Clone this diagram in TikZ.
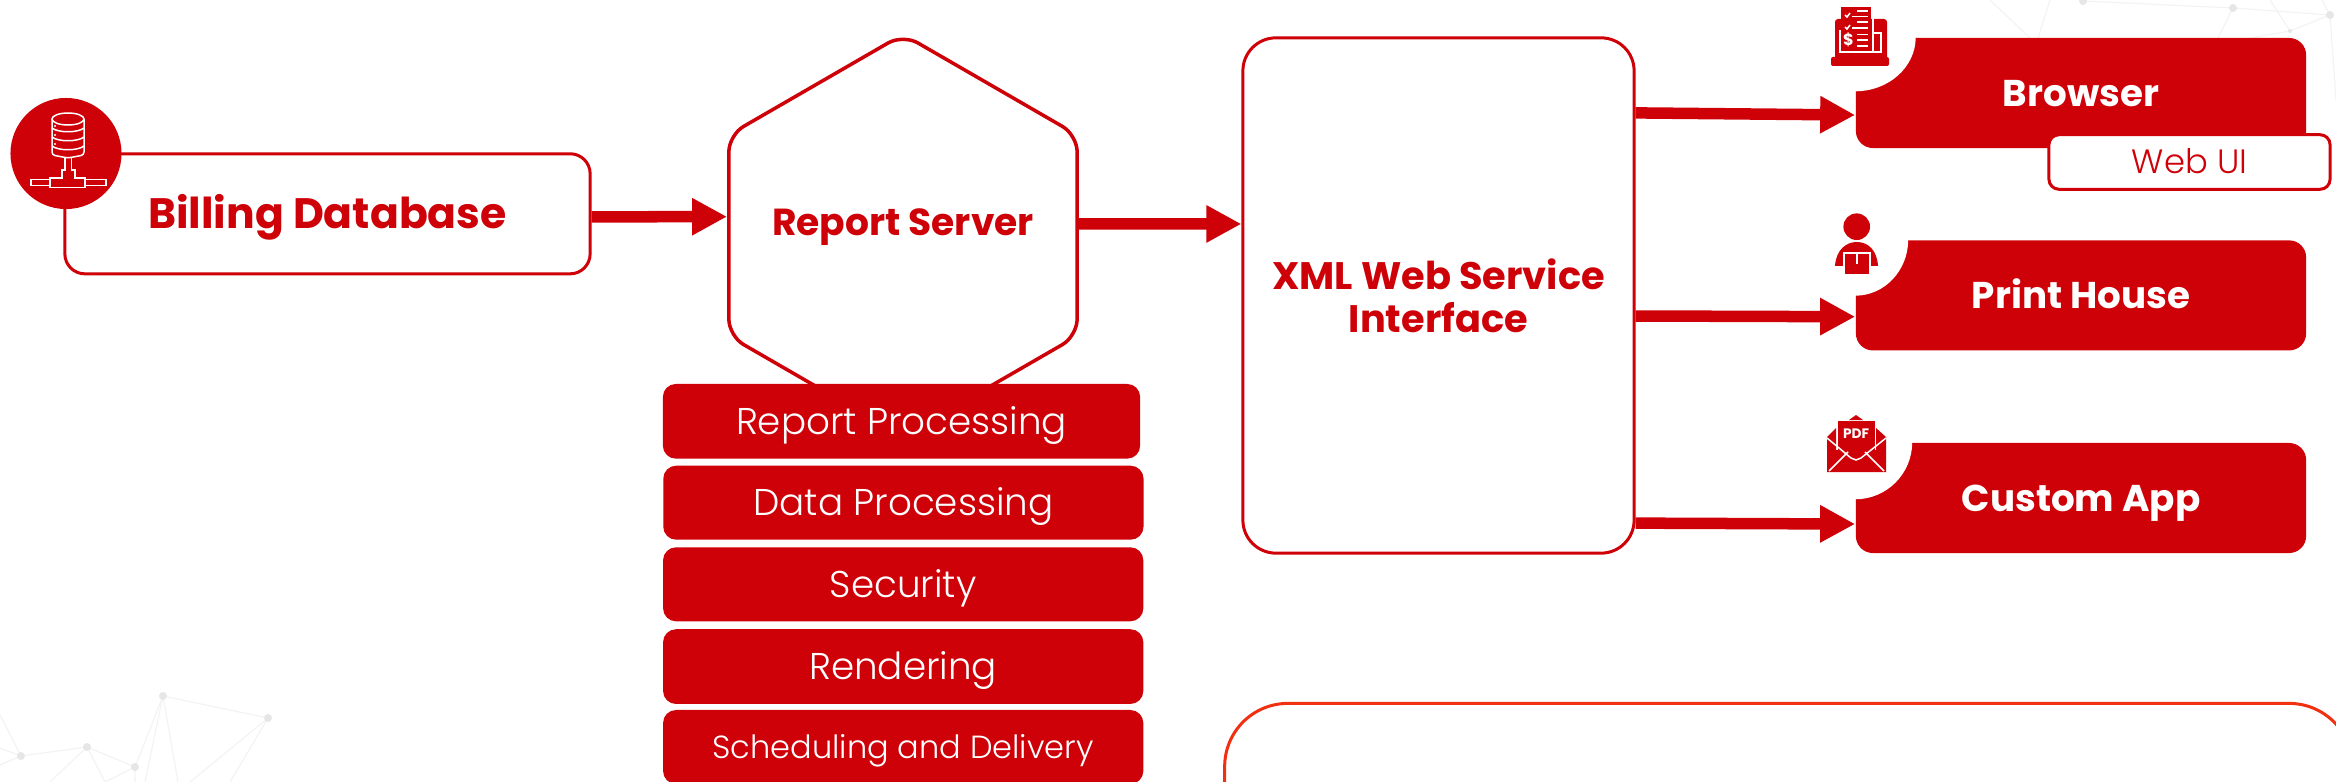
\documentclass[tikz,border=0pt]{standalone}
\usepackage{xcolor}
\usepackage{fontspec}
\setmainfont{Poppins}
\newfontfamily\lightfont{Poppins Light}
\usepackage{tikz}
\usetikzlibrary{shapes.geometric, arrows.meta, positioning}
\definecolor{billred}{RGB}{206, 0, 8}
\definecolor{noteorange}{RGB}{240, 48, 16}
\definecolor{netline}{RGB}{243, 243, 243}
\definecolor{netdot}{RGB}{230, 230, 230}

\begin{document}
\begin{tikzpicture}[
    x=0.01cm, y=-0.01cm,
    outline/.style={draw=billred, line width=0.03cm, fill=white, inner sep=0pt, text=billred, align=center},
    client/.style={fill=billred, rounded corners=0.17cm, minimum width=4.5cm, minimum height=1.1cm, inner sep=0pt, text=white, text height=1.04em, text depth=0.3em, font=\fontsize{10.6}{12}\bfseries\selectfont},
    module/.style={fill=billred, rounded corners=0.13cm, minimum width=4.8cm, minimum height=0.74cm, inner sep=0pt, text=white, text height=1.05em, text depth=0.3em, font=\lightfont\fontsize{10.6}{12}\selectfont},
    arrow/.style={-{Triangle[length=0.35cm, width=0.35cm]}, line width=0.115cm, billred},
    iconline/.style={draw=white, line width=0.015cm}
]
    \useasboundingbox (0, 0) rectangle (2336, 782);
    \clip (0, 0) rectangle (2336, 782);

    % Faint network behind the picture
    \draw[netline, line width=0.012cm] (0, 748) -- (21, 756) -- (0, 715) (0, 765) -- (21, 756) -- (87, 747) -- (135, 767) -- (163, 696) -- (268, 718) -- (190, 782);
    \draw[netline, line width=0.012cm] (87, 747) -- (50, 782) (87, 747) -- (105, 782) -- (135, 767) -- (135, 782) (163, 696) -- (145, 782) (163, 696) -- (178, 782) (268, 718) -- (230, 782);
    \draw[netline, line width=0.012cm] (1990, 0) -- (2030, 38) (2050, 0) -- (2038, 38) (2083, 1) -- (2233, 8) -- (2330, 15) -- (2290, 31) -- (2270, 0) (2233, 8) -- (2218, 38) (2330, 15) -- (2322, 0) (2330, 15) -- (2336, 100) (2290, 31) -- (2250, 38);
    \fill[netdot] (21, 756) circle (0.04cm) (87, 747) circle (0.04cm) (135, 767) circle (0.04cm) (163, 696) circle (0.04cm) (268, 718) circle (0.04cm);
    \fill[netdot] (2083, 1) circle (0.04cm) (2233, 8) circle (0.04cm) (2330, 15) circle (0.04cm) (2290, 31) circle (0.02cm);

    % Box at the bottom, cut by the page
    \node[draw=noteorange, line width=0.03cm, rounded corners=0.63cm, minimum width=11.27cm, minimum height=3cm, inner sep=0pt] (notes) at (1788.5, 853.5) {};

    % Main boxes
    \node[regular polygon, regular polygon sides=6, regular polygon rotate=30, minimum size=4.02cm, inner sep=0pt, draw=billred, line width=0.035cm, fill=white, rounded corners=0.17cm] (server) at (903, 235.5) {};
    \node[text=billred, font=\fontsize{10.7}{12}\bfseries\selectfont, inner sep=0pt] (serverlabel) at (903, 227) {Report Server};
    \node[outline, rounded corners=0.2cm, minimum width=5.25cm, minimum height=1.2cm, text height=1.16em, text depth=0.3em, font=\fontsize{12.1}{14}\bfseries\selectfont] (billing) at (327.5, 213.8) {Billing Database};
    \node[outline, rounded corners=0.33cm, minimum width=3.91cm, minimum height=5.15cm, font=\fontsize{10.9}{12.2}\bfseries\selectfont] (xml) at (1438.5, 295.5) {XML Web Service\\Interface};

    % Server modules
    \node[module, minimum width=4.77cm, minimum height=0.747cm] (reportproc) at (901.5, 421.3) {Report Processing};
    \node[module] (dataproc) at (903.4, 502.7) {Data Processing};
    \node[module] (security) at (903.2, 584.3) {Security};
    \node[module, minimum height=0.747cm] (rendering) at (903.2, 666.6) {Rendering};
    \node[module, text height=0.94em, font=\lightfont\fontsize{9.1}{11}\selectfont] (sched) at (903.2, 747) {Scheduling and Delivery};

    % Clients
    \node[client] (browser) at (2081, 93) {Browser};
    \node[client] (printhouse) at (2081, 295.4) {Print House};
    \node[client] (customapp) at (2081, 498) {Custom App};
    \fill[white] (browser.north west) ellipse (0.605cm and 0.54cm);
    \fill[white] (printhouse.north west) ellipse (0.53cm and 0.56cm);
    \fill[white] (customapp.north west) ellipse (0.57cm and 0.57cm);
    \node[outline, rounded corners=0.1cm, minimum width=2.81cm, minimum height=0.545cm, text height=0.97em, text depth=0.3em, font=\lightfont\fontsize{9.6}{11}\selectfont] (webui) at (2189.5, 162) {Web UI};

    % Connectors
    \draw[arrow] ([yshift=-0.03cm]billing.east) -- ([yshift=0.188cm]server.west);
    \draw[arrow] ([yshift=0.115cm]server.east) -- ([yshift=0.715cm]xml.west);
    \draw[arrow] ([yshift=1.825cm]xml.east) -- ([yshift=-0.22cm]browser.west);
    \draw[arrow] ([yshift=-0.205cm]xml.east) -- ([yshift=-0.213cm]printhouse.west);
    \draw[arrow] ([yshift=-2.275cm]xml.east) -- ([yshift=-0.26cm]customapp.west);

    % Database icon
    \node[circle, fill=billred, minimum size=1.11cm, inner sep=0pt] (dbicon) at (66, 153.5) {};
    \draw[iconline, rounded corners=0.03cm] (52, 119) -- (52, 155) -- (68, 158) -- (84, 155) -- (84, 119);
    \draw[iconline] (68, 119) ellipse (0.16cm and 0.06cm);
    \draw[iconline] (52, 128) .. controls (58, 133) and (78, 133) .. (84, 128);
    \draw[iconline] (52, 137) .. controls (58, 142) and (78, 142) .. (84, 137);
    \draw[iconline] (52, 146) .. controls (58, 151) and (78, 151) .. (84, 146);
    \fill[white] (55, 126) circle (0.012cm) (55, 135) circle (0.012cm) (55, 144) circle (0.012cm);
    \draw[iconline] (65, 158) -- (65, 170) -- (62, 170) -- (62, 178) -- (50, 178) -- (50, 187.5) -- (85, 187.5) -- (85, 178) -- (75, 178) -- (75, 170) -- (71.5, 170) -- (71.5, 158);
    \draw[iconline] (50, 179.5) -- (31, 179.5) -- (31, 185.5) -- (50, 185.5);
    \draw[iconline] (85, 179.5) -- (106, 179.5) -- (106, 185.5) -- (85, 185.5);

    % Invoice icon
    \fill[billred, rounded corners=0.03cm] (1835, 60) -- (1835, 19) -- (1887, 19) -- (1887, 60) -- cycle;
    \fill[billred, rounded corners=0.02cm] (1831, 57) -- (1852, 57) -- (1855, 60) -- (1866, 60) -- (1869, 57) -- (1889, 57) -- (1889, 66) -- (1831, 66) -- cycle;
    \draw[iconline] (1840, 30) -- (1840, 52) -- (1881, 52) -- (1881, 33) -- (1873, 33);
    \fill[billred] (1841, 7) rectangle (1871, 51);
    \draw[iconline] (1873, 7) -- (1873, 52);
    \draw[iconline] (1857, 11) -- (1868, 11) (1852, 16.5) -- (1868, 16.5) (1857, 22) -- (1868, 22) (1852, 28) -- (1868, 28) (1857, 34.5) -- (1868, 34.5) (1857, 40) -- (1868, 40) (1857, 46) -- (1868, 46);
    \draw[iconline] (1845, 15) -- (1847, 17) -- (1850, 13) (1845, 27) -- (1847, 29) -- (1850, 25);
    \node[text=white, inner sep=0pt, font=\fontsize{4.6}{5}\bfseries\selectfont] (dollar) at (1848.5, 40) {\$};

    % Person icon
    \fill[billred] (1856.7, 226.7) circle (0.133cm);
    \fill[billred] (1835, 266) .. controls (1836, 250) and (1846, 242) .. (1856.7, 242) .. controls (1868, 242) and (1877, 250) .. (1878, 266) -- cycle;
    \fill[billred, draw=white, line width=0.012cm] (1844, 253) rectangle (1870, 275);
    \draw[iconline] (1857, 253) -- (1857, 264);

    % PDF icon
    \fill[billred] (1827, 437) -- (1836, 428) -- (1836, 450) -- (1876, 450) -- (1876, 428) -- (1886, 437) -- (1886, 472) -- (1827, 472) -- cycle;
    \fill[billred] (1849, 420) -- (1856, 415) -- (1863, 420) -- cycle;
    \fill[billred] (1838, 421) rectangle (1875, 450);
    \draw[iconline, line join=round] (1827, 438) -- (1851, 458) -- (1856, 460) -- (1861, 458) -- (1886, 438);
    \draw[iconline] (1829, 471) -- (1848, 452) (1884, 471) -- (1865, 452);
    \node[text=white, inner sep=0pt, font=\fontsize{3.9}{5}\bfseries\selectfont] (pdflabel) at (1856, 434) {PDF};
\end{tikzpicture}
\end{document}
